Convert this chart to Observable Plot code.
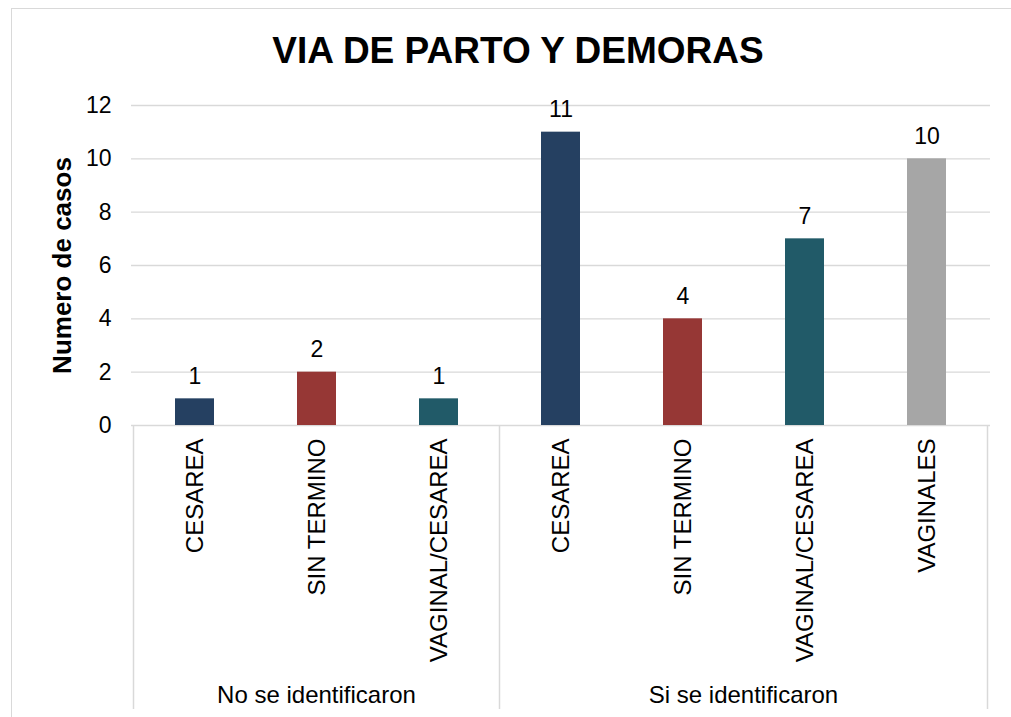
<!DOCTYPE html>
<html><head><meta charset="utf-8">
<script src="https://cdn.jsdelivr.net/npm/d3@7"></script>
<script src="https://cdn.jsdelivr.net/npm/@observablehq/plot@0.6"></script>
<style>
body{margin:0;background:#fff;}
#wrap{position:relative;width:1011px;height:717px;overflow:hidden;font-family:"Liberation Sans",Arial,sans-serif;}
#border{position:absolute;left:11px;top:8px;width:1030px;height:730px;border:1.5px solid #d9d9d9;box-sizing:border-box;pointer-events:none}
#wrap svg{position:absolute;left:0;top:0;}
</style></head><body><div id="wrap"><div id="border"></div></div>
<script>
const title = "VIA DE PARTO Y DEMORAS";
const yLabel = "Numero de casos";
const groups = ["No se identificaron","No se identificaron","No se identificaron","Si se identificaron","Si se identificaron","Si se identificaron","Si se identificaron"];
const categories = ["CESAREA","SIN TERMINO","VAGINAL/CESAREA","CESAREA","SIN TERMINO","VAGINAL/CESAREA","VAGINALES"];
const values = [1,2,1,11,4,7,10];
const yTicks = [0,2,4,6,8,10,12];
const colorDomain = ["CESAREA","SIN TERMINO","VAGINAL/CESAREA","VAGINALES"];
const colorRange = ["#254061","#963735","#215A68","#A6A6A6"];

const data = categories.map((c,i)=>({key: groups[i]+"|"+c, group: groups[i], cat: c, value: values[i]}));
const keys = data.map(d=>d.key);
const groupNames = Array.from(new Set(groups));

function groupAxis(index, scales, vals, dims) {
  const x = scales.x;
  const step = x.step ? x.step() : (x(keys[1]) - x(keys[0]));
  const bw = x.bandwidth ? x.bandwidth() : step * 0.318;
  const pad = (step - bw) / 2;
  const top = dims.height - dims.marginBottom;
  const bottom = dims.height - 8;
  const g = d3.create("svg:g");
  const seps = [];
  groupNames.forEach(gn => {
    const ks = data.filter(d => d.group === gn).map(d => d.key);
    const left = x(ks[0]) - pad;
    const right = x(ks[ks.length-1]) + bw + pad;
    seps.push(left);
    g.append("text")
      .attr("x", (left + right) / 2)
      .attr("y", bottom - 6)
      .attr("text-anchor", "middle")
      .attr("font-size", 24)
      .attr("fill", "#000")
      .text(gn);
  });
  seps.push(x(keys[keys.length-1]) + bw + pad);
  seps.forEach(sx => {
    g.append("line").attr("x1", sx).attr("x2", sx).attr("y1", top).attr("y2", bottom)
      .attr("stroke", "#d9d9d9").attr("stroke-width", 1.5);
  });
  return g.node();
}

const plot = Plot.plot({
  width: 1011, height: 717,
  marginLeft: 131, marginRight: 21, marginTop: 105, marginBottom: 292,
  style: {fontFamily: '"Liberation Sans", Arial, sans-serif', background: "transparent", color: "#000", overflow: "visible"},
  x: {domain: keys, paddingInner: 0.682, paddingOuter: 0.341, axis: null},
  y: {domain: [0, 12], ticks: yTicks, label: null, axis: null},
  color: {domain: colorDomain, range: colorRange},
  marks: [
    Plot.gridY(yTicks, {stroke: "#d9d9d9", strokeOpacity: 1, strokeWidth: 1.3}),
    Plot.axisY(yTicks, {tickSize: 0, tickPadding: 20, fontSize: 23, label: null}),
    Plot.barY(data, {x: "key", y: "value", fill: "cat"}),
    Plot.text(data, {x: "key", y: "value", text: d => String(d.value), lineAnchor: "bottom", dy: -15, fontSize: 23, fill: "#000"}),
    Plot.text(data, {x: "key", text: "cat", frameAnchor: "bottom", dy: 13, rotate: -90, textAnchor: "end", lineAnchor: "middle", fontSize: 24, fill: "#000"}),
    Plot.text([yLabel], {frameAnchor: "left", dx: -69, rotate: -90, textAnchor: "middle", lineAnchor: "middle", fontWeight: "bold", fontSize: 26, fill: "#000"}),
    Plot.text([title], {frameAnchor: "top", dx: -43, dy: -43, lineAnchor: "bottom", fontWeight: "bold", fontSize: 37, fill: "#000"}),
    groupAxis
  ]
});
document.getElementById("wrap").insertBefore(plot, document.getElementById("border"));
</script></body></html>
